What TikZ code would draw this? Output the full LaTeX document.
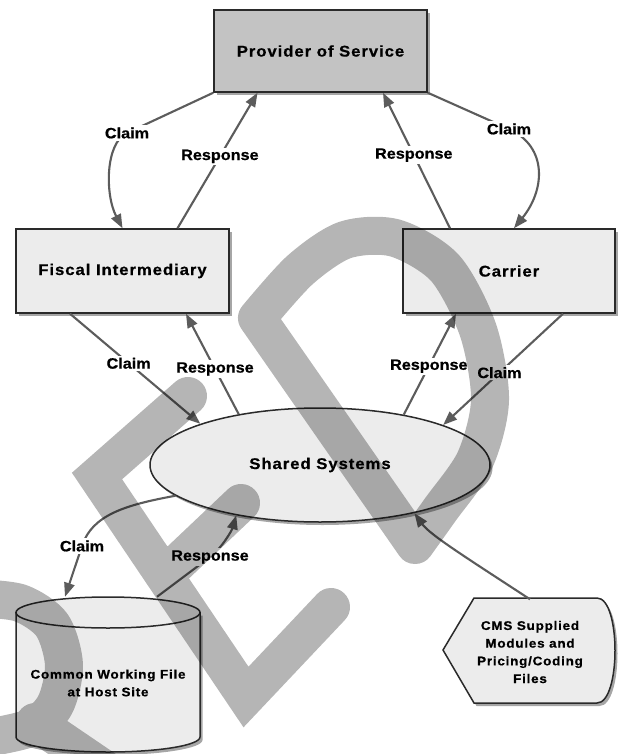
\documentclass[tikz,border=0pt]{standalone}
\usepackage{fontspec}
\setmainfont{Liberation Sans}
\newfontfamily\lblfont{Liberation Sans}[UprightFont={* Bold},FakeStretch=1.08,FakeBold=0.6]
\newfontfamily\boxfont{Liberation Sans}[UprightFont={* Bold},FakeStretch=1.08,LetterSpace=6,FakeBold=0.6]
\usetikzlibrary{arrows.meta,shadows,shapes.geometric,calc}
\definecolor{arrowgray}{HTML}{5C5C5C}
\definecolor{edgegray}{HTML}{2A2A2A}
\definecolor{provfill}{HTML}{C3C3C3}
\definecolor{lightfill}{HTML}{ECECEC}
\tikzset{
  shadowed/.style={drop shadow={shadow xshift=2.5pt,shadow yshift=-3pt,opacity=0.35,fill=black}},
  boxnode/.style={draw=edgegray,line width=1.5pt,rectangle,inner sep=0pt,shadowed,
    font=\boxfont\fontsize{15.5}{18}\selectfont},
  shapeline/.style={fill=lightfill,draw=edgegray,line width=1.5pt},
  smalltext/.style={inner sep=0pt,align=center,font=\boxfont\fontsize{12.5}{17.7}\selectfont},
  arr/.style={draw=arrowgray,line width=2.1pt,-{Triangle[length=14pt,width=10.5pt]}},
  lbl/.style={fill=white,inner sep=2pt,text=black,font=\lblfont\fontsize{15}{18}\selectfont},
  wm/.style={draw=black,line width=38pt,line cap=round,line join=round},
}
\begin{document}
\begin{tikzpicture}[x=1pt,y=1pt]
\useasboundingbox (0,0) rectangle (622,-754);
\fill[white] (0,0) rectangle (622,-754);

% nodes
\node[boxnode,fill=provfill,minimum width=213pt,minimum height=82pt] (prov) at (320.5,-51) {Provider of Service};
\node[boxnode,fill=lightfill,minimum width=213pt,minimum height=84pt] (fi) at (122.5,-271) {Fiscal Intermediary};
\node[boxnode,fill=lightfill,minimum width=212pt,minimum height=84pt] (car) at (509,-271) {Carrier};
\node[boxnode,ellipse,fill=lightfill,minimum width=340pt,minimum height=114pt] (ss) at (320,-465) {Shared Systems};

% cylinder
\node[minimum width=184pt,minimum height=155pt,inner sep=0pt] (cwf) at (108,-674.5) {};
\path[shapeline,shadowed] (16,-612.5) -- (16,-737) .. controls (16,-745.3) and (57.2,-752) .. (108,-752)
  .. controls (158.8,-752) and (200,-745.3) .. (200,-737) -- (200,-612.5) -- cycle;
\path[shapeline] (108,-612.5) ellipse[x radius=92pt,y radius=15.5pt];
\node[smalltext] (cwft) at (108,-683) {Common Working File\\at Host Site};

% display shape
\path[shapeline,shadowed] (443,-650) -- (474,-598) -- (597,-598) .. controls (621,-598) and (621,-703) .. (597,-703) -- (474,-703) -- cycle;
\node[smalltext,minimum width=170pt,minimum height=105pt] (cms) at (530,-652) {CMS Supplied\\Modules and\\Pricing/Coding\\Files};

% connectors, top
\draw[arr] (prov.south west) -- (127,-133) node[lbl]{Claim} .. controls (105,-143) and (105,-195) .. (fi.north);
\draw[arr] ([xshift=55pt]fi.north) -- node[lbl,pos=.53]{Response} ([xshift=-63pt]prov.south);
\draw[arr] ([xshift=-59pt]car.north) -- node[lbl,pos=.54]{Response} ([xshift=62.5pt]prov.south);
\draw[arr] (prov.south east) -- (509,-129) node[lbl]{Claim} .. controls (548,-147) and (545,-190) .. ([xshift=5pt]car.north);

% connectors, middle
\draw[arr] ([xshift=-52.5pt]fi.south) -- node[lbl,pos=.45]{Claim} (ss.161);
\draw[arr] (ss.148) -- node[lbl,pos=.45]{Response} ([xshift=63.5pt]fi.south);
\draw[arr] (ss.31) -- node[lbl,pos=.48]{Response} ([xshift=-53pt]car.south);
\draw[arr] ([xshift=54pt]car.south) -- node[lbl,pos=.53]{Claim} (ss.18);

% connectors, bottom
\draw[arr] (ss.192) .. controls (125,-505) and (92,-515) .. (82,-546) node[lbl]{Claim} -- ([xshift=-43pt]cwf.north);
\draw[arr] ([xshift=49pt]cwf.north) -- (210,-557) node[lbl]{Response} .. controls (222,-548) and (232,-530) .. (ss.211);
\draw[arr] (cms.north) .. controls (470,-560) and (430,-535) .. (ss.333);

% watermark
\begin{scope}[transparency group,opacity=0.29]
\clip (0,0) rectangle (622,-754);
\draw[wm,line join=miter] (188,-396) -- (97,-476) -- (246,-697) -- (331,-607) (241,-503) -- (165,-575);
\draw[wm] (257,-318) -- (415,-545) -- plot[smooth] coordinates {(415,-545) (440,-510) (475,-460) (490,-400) (478,-330) (445,-268) (395,-238) (345,-240) (300,-270) (257,-318)} -- cycle;
\draw[wm] plot[smooth] coordinates {(-25,-598) (20,-603) (52,-625) (64,-665) (55,-705) (30,-728) (-25,-740)};
\draw[wm] (35,-722) -- (135,-790);
\end{scope}
\end{tikzpicture}
\end{document}
